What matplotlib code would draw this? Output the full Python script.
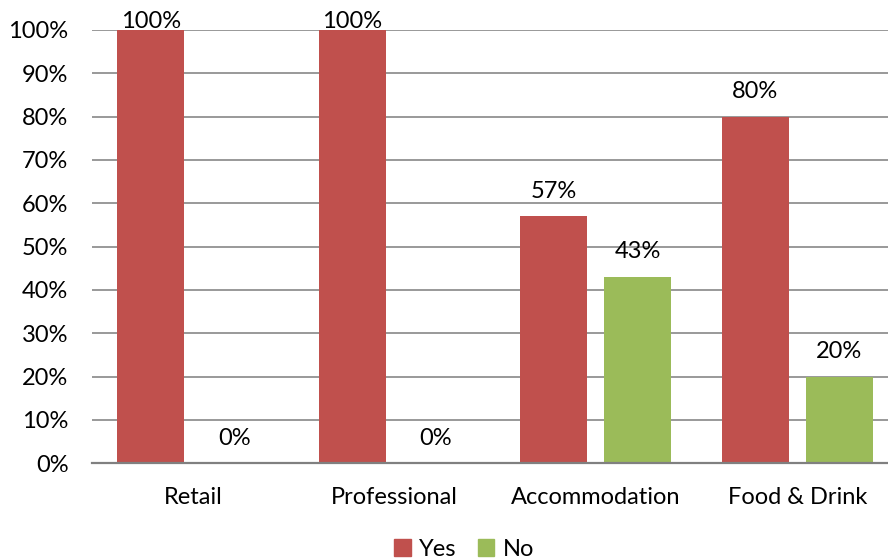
import matplotlib
matplotlib.use("Agg")
import matplotlib.pyplot as plt
import numpy as np
from matplotlib.patches import Patch
from matplotlib.ticker import MultipleLocator, FuncFormatter

CATEGORIES = ["Retail", "Professional", "Accommodation", "Food & Drink"]
YES = [100, 100, 57, 80]
NO = [0, 0, 43, 20]

YES_COLOR = "#C0504D"
NO_COLOR = "#9BBB59"
GRID_COLOR = "#878787"
FONT = "Lato"
FS = 17

plt.rcParams["font.family"] = [FONT, "DejaVu Sans"]

fig = plt.figure(figsize=(8.88, 5.59), dpi=100)
# plot area runs a little past the right edge, like the source image
ax = fig.add_axes([92 / 888, 1 - 463.3 / 559, 806 / 888, 433.3 / 559])

x = np.arange(len(CATEGORIES))
width = 0.333
gap = 0.082
off = (width + gap) / 2

ax.bar(x - off, YES, width, color=YES_COLOR, zorder=3)
ax.bar(x + off, NO, width, color=NO_COLOR, zorder=3)

ax.set_xlim(-0.5, len(CATEGORIES) - 0.5)
ax.set_ylim(0, 100)
ax.yaxis.set_major_locator(MultipleLocator(10))
ax.yaxis.set_major_formatter(FuncFormatter(lambda v, p: f"{v:.0f}%"))
ax.grid(axis="y", color=GRID_COLOR, linewidth=1.2, zorder=0)
ax.set_xticks(x)
ax.set_xticklabels(CATEGORIES)
ax.tick_params(axis="both", length=0, labelsize=FS, pad=17)

for side in ["top", "right", "left"]:
    ax.spines[side].set_visible(False)
ax.spines["bottom"].set_color("#808080")
ax.spines["bottom"].set_linewidth(1.6)
ax.spines["bottom"].set_zorder(4)

# data labels sit ~25px above the bar, kept inside the plot top
px = 100 / 433.3
for xs, vals in [(x - off, YES), (x + off, NO)]:
    for xi, v in zip(xs, vals):
        ly = min(v + 25 * px, 100 + 9 * px)
        ax.text(xi, ly, f"{v}%", ha="center", va="center", fontsize=FS, zorder=5)

handles = [Patch(color=YES_COLOR, label="Yes"), Patch(color=NO_COLOR, label="No")]
fig.legend(handles=handles, loc="center", bbox_to_anchor=(464 / 888, 1 - 549 / 559),
           ncol=2, frameon=False, fontsize=FS, handlelength=0.7, handleheight=0.7,
           handletextpad=0.35, columnspacing=0.9, borderaxespad=0, borderpad=0)

fig.savefig("out.png", dpi=100)
